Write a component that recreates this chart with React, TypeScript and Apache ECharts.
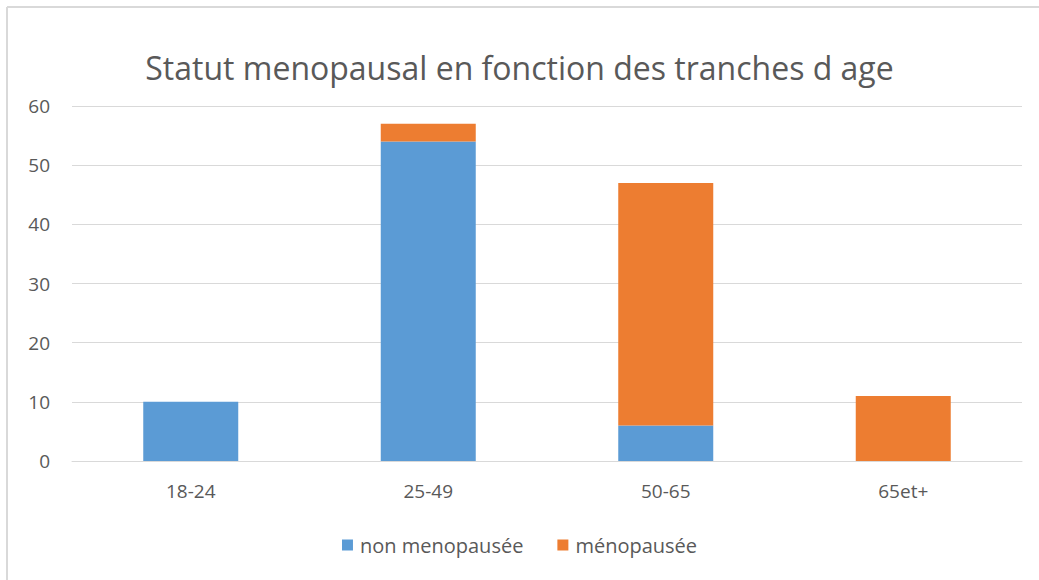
import React, { useEffect, useRef } from "react";
import * as echarts from "echarts";

const categories = ["18-24", "25-49", "50-65", "65et+"];
const nonMenopausee = [10, 54, 6, 0];
const menopausee = [0, 3, 41, 11];
const seriesNames = ["non menopausée", "ménopausée"];
const titleText = "Statut menopausal en fonction des tranches d age";

export default function App() {
  const ref = useRef<HTMLDivElement>(null);
  useEffect(() => {
    if (!ref.current) return;
    const chart = echarts.init(ref.current, null, { renderer: "svg" });
    const font = "'Open Sans', 'Noto Sans', sans-serif";
    chart.setOption({
      animation: false,
      backgroundColor: "#ffffff",
      title: {
        text: titleText,
        left: "center",
        top: 46,
        textStyle: { fontFamily: font, fontSize: 32, fontWeight: "normal", color: "#595959" },
      },
      grid: { left: 72, right: 17, top: 106, bottom: 119 },
      legend: {
        bottom: 20,
        left: "center",
        itemWidth: 11,
        itemHeight: 11,
        itemGap: 34,
        icon: "rect",
        textStyle: { fontFamily: font, fontSize: 20, color: "#595959", padding: [0, 0, 0, 2] },
        data: seriesNames,
      },
      xAxis: {
        type: "category",
        data: categories,
        axisLine: { lineStyle: { color: "#d9d9d9" } },
        axisTick: { show: false },
        axisLabel: { fontFamily: font, fontSize: 19, color: "#595959", margin: 20 },
      },
      yAxis: {
        type: "value",
        min: 0,
        max: 60,
        interval: 10,
        axisLine: { show: false },
        axisTick: { show: false },
        splitLine: { lineStyle: { color: "#d9d9d9" } },
        axisLabel: { fontFamily: font, fontSize: 19, color: "#595959", margin: 22 },
      },
      graphic: [
        { type: "line", shape: { x1: 7, y1: 7, x2: 1039, y2: 7 }, style: { stroke: "#d9d9d9", lineWidth: 2 } },
        { type: "line", shape: { x1: 7, y1: 7, x2: 7, y2: 580 }, style: { stroke: "#d9d9d9", lineWidth: 2 } },
      ],
      series: [
        {
          name: seriesNames[0],
          type: "bar",
          stack: "total",
          barWidth: "40%",
          data: nonMenopausee,
          itemStyle: { color: "#5b9bd5" },
        },
        {
          name: seriesNames[1],
          type: "bar",
          stack: "total",
          barWidth: "40%",
          data: menopausee,
          itemStyle: { color: "#ed7d31" },
        },
      ],
    });
    return () => chart.dispose();
  }, []);
  return (
    <div
      ref={ref}
      style={{ position: "fixed", left: 0, top: 0, width: 1039, height: 580 }}
    />
  );
}
